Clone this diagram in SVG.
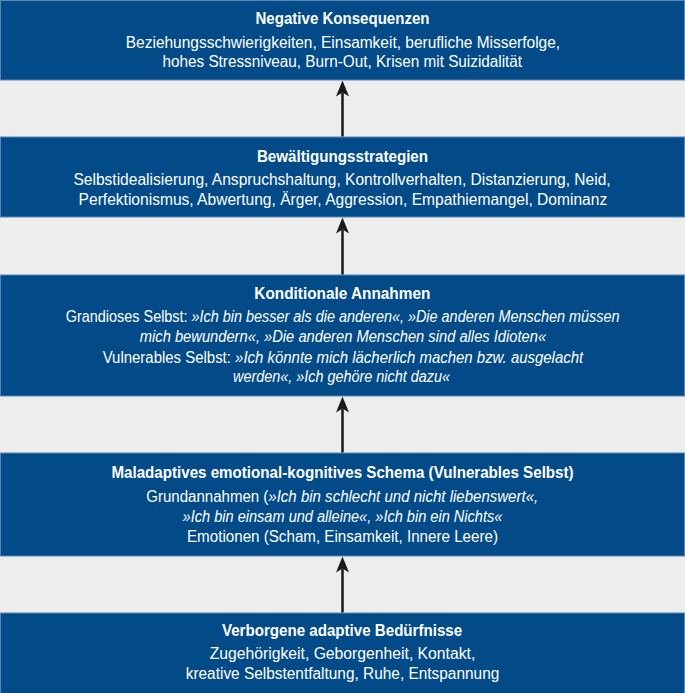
<svg xmlns="http://www.w3.org/2000/svg" width="685" height="693" viewBox="0 0 685 693">
<style>
.bg{fill:#ECEDEC}
.box{fill:#024B88;stroke:#5B86B4;stroke-width:1}
text{font-family:"Liberation Sans",Arial,sans-serif;font-size:16px;fill:#FFFFFF}
.t{font-weight:bold}
.i{font-style:italic}
.conn{stroke:#1A1A1A;stroke-width:2.5;fill:none;marker-end:url(#ah)}
</style>
<defs>
<marker id="ah" markerUnits="userSpaceOnUse" markerWidth="16" markerHeight="14" refX="4" refY="7" orient="auto">
<path d="M0,0.5 L16,7 L0,13.5 L4,7 Z" fill="#1A1A1A"/>
</marker>
</defs>
<rect class="bg" x="0" y="0" width="685" height="693"/>

<g id="node-negative">
<rect class="box" x="0.5" y="0.5" width="684" height="79.5"/>
<text class="t" x="255.5" y="24" textLength="174" lengthAdjust="spacingAndGlyphs">Negative Konsequenzen</text>
<text x="125.8" y="47.7" textLength="434.3" lengthAdjust="spacingAndGlyphs">Beziehungsschwierigkeiten, Einsamkeit, berufliche Misserfolge,</text>
<text x="162.5" y="66.7" textLength="359.6" lengthAdjust="spacingAndGlyphs">hohes Stressniveau, Burn-Out, Krisen mit Suizidalität</text>
</g>

<g id="node-bewaeltigung">
<rect class="box" x="0.5" y="137" width="684" height="80"/>
<text class="t" x="256.9" y="161.7" textLength="171.2" lengthAdjust="spacingAndGlyphs">Bewältigungsstrategien</text>
<text x="73.4" y="185" textLength="537.3" lengthAdjust="spacingAndGlyphs">Selbstidealisierung, Anspruchshaltung, Kontrollverhalten, Distanzierung, Neid,</text>
<text x="78.6" y="204.7" textLength="528.6" lengthAdjust="spacingAndGlyphs">Perfektionismus, Abwertung, Ärger, Aggression, Empathiemangel, Dominanz</text>
</g>

<g id="node-konditional">
<rect class="box" x="0.5" y="275" width="684" height="121"/>
<text class="t" x="254.3" y="298.5" textLength="176" lengthAdjust="spacingAndGlyphs">Konditionale Annahmen</text>
<text x="65.8" y="321.7" textLength="553.7" lengthAdjust="spacingAndGlyphs">Grandioses Selbst: <tspan class="i">»Ich bin besser als die anderen«, »Die anderen Menschen müssen</tspan></text>
<text class="i" x="139.8" y="342.2" textLength="406.3" lengthAdjust="spacingAndGlyphs">mich bewundern«, »Die anderen Menschen sind alles Idioten«</text>
<text x="102.7" y="362.5" textLength="480.5" lengthAdjust="spacingAndGlyphs">Vulnerables Selbst: <tspan class="i">»Ich könnte mich lächerlich machen bzw. ausgelacht</tspan></text>
<text class="i" x="233" y="382.2" textLength="217" lengthAdjust="spacingAndGlyphs">werden«, »Ich gehöre nicht dazu«</text>
</g>

<g id="node-schema">
<rect class="box" x="0.5" y="453" width="684" height="103"/>
<text class="t" x="111.4" y="478.3" textLength="462.2" lengthAdjust="spacingAndGlyphs">Maladaptives emotional-kognitives Schema (Vulnerables Selbst)</text>
<text x="146.3" y="501.7" textLength="391.9" lengthAdjust="spacingAndGlyphs">Grundannahmen (<tspan class="i">»Ich bin schlecht und nicht liebenswert«,</tspan></text>
<text class="i" x="182.6" y="521.7" textLength="319.8" lengthAdjust="spacingAndGlyphs">»Ich bin einsam und alleine«, »Ich bin ein Nichts«</text>
<text x="187" y="542.3" textLength="311" lengthAdjust="spacingAndGlyphs">Emotionen (Scham, Einsamkeit, Innere Leere)</text>
</g>

<g id="node-beduerfnisse">
<rect class="box" x="0.5" y="613" width="684" height="80.5"/>
<text class="t" x="221.9" y="635.5" textLength="240.3" lengthAdjust="spacingAndGlyphs">Verborgene adaptive Bedürfnisse</text>
<text x="209.7" y="658.5" textLength="265.6" lengthAdjust="spacingAndGlyphs">Zugehörigkeit, Geborgenheit, Kontakt,</text>
<text x="185.7" y="679.3" textLength="313.6" lengthAdjust="spacingAndGlyphs">kreative Selbstentfaltung, Ruhe, Entspannung</text>
</g>

<g id="connectors">
<path class="conn" d="M342.5,136.5 L342.5,92.5"/>
<path class="conn" d="M342.5,274.5 L342.5,229.5"/>
<path class="conn" d="M342.5,452.5 L342.5,408.5"/>
<path class="conn" d="M342.5,612.5 L342.5,568.5"/>
</g>
</svg>
